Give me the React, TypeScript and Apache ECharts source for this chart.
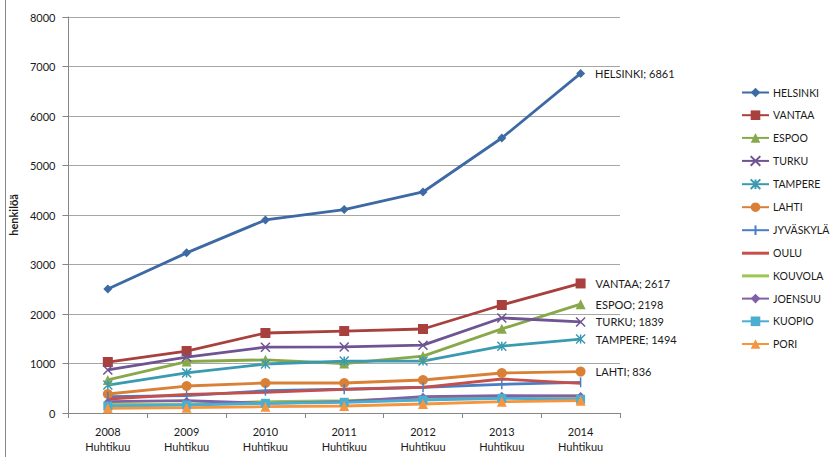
import React, { useEffect, useRef } from "react";
import * as echarts from "echarts";

const years = ["2008\nHuhtikuu", "2009\nHuhtikuu", "2010\nHuhtikuu", "2011\nHuhtikuu", "2012\nHuhtikuu", "2013\nHuhtikuu", "2014\nHuhtikuu"];

const helsinki = [2505, 3235, 3900, 4110, 4465, 5555, 6861];
const vantaa = [1030, 1252, 1616, 1656, 1697, 2182, 2617];
const espoo = [667, 1040, 1075, 1000, 1150, 1700, 2198];
const turku = [870, 1130, 1330, 1335, 1370, 1920, 1839];
const tampere = [565, 810, 990, 1050, 1050, 1350, 1494];
const lahti = [384, 545, 606, 606, 667, 808, 836];
const jyvaskyla = [330, 350, 450, 480, 520, 580, 620];
const oulu = [283, 377, 418, 478, 519, 687, 600];
const kouvola = [175, 180, 229, 249, 296, 330, 343];
const joensuu = [229, 249, 196, 229, 330, 350, 343];
const kuopio = [141, 162, 196, 216, 263, 296, 276];
const pori = [94, 108, 128, 141, 182, 229, 249];

const xPath = "path://M0,0L10,10M10,0L0,10";
const starPath = "path://M0,0L10,10M10,0L0,10M5,0L5,10";
const plusPath = "path://M0,5L0,5M5,0L5,10M10,5L10,5";
const lineIcon = "path://M0,0L27,0L27,3L0,3Z";

type S = { name: string; data: number[]; color: string; symbol: string; label: boolean; size?: number };

const seriesDefs: S[] = [
  { name: "HELSINKI", data: helsinki, color: "#3D6AA4", symbol: "diamond", label: true, size: 9 },
  { name: "VANTAA", data: vantaa, color: "#A8403D", symbol: "rect", label: true, size: 10 },
  { name: "ESPOO", data: espoo, color: "#88A84C", symbol: "triangle", label: true, size: 10 },
  { name: "TURKU", data: turku, color: "#6E5492", symbol: xPath, label: true, size: 9 },
  { name: "TAMPERE", data: tampere, color: "#3A9AB1", symbol: starPath, label: true, size: 9 },
  { name: "LAHTI", data: lahti, color: "#DA8036", symbol: "circle", label: true, size: 10 },
  { name: "JYVÄSKYLÄ", data: jyvaskyla, color: "#4A7EC4", symbol: plusPath, label: false, size: 10 },
  { name: "OULU", data: oulu, color: "#C64F4C", symbol: "none", label: false },
  { name: "KOUVOLA", data: kouvola, color: "#9AC652", symbol: "none", label: false },
  { name: "JOENSUU", data: joensuu, color: "#8060A6", symbol: "diamond", label: false, size: 8 },
  { name: "KUOPIO", data: kuopio, color: "#4AAED0", symbol: "rect", label: false, size: 9 },
  { name: "PORI", data: pori, color: "#F7953F", symbol: "triangle", label: false, size: 10 },
];

export default function App() {
  const ref = useRef<HTMLDivElement>(null);
  useEffect(() => {
    if (!ref.current) return;
    const chart = echarts.init(ref.current, null, { renderer: "svg" });
    const font = "Lato, 'Open Sans', sans-serif";
    const series = seriesDefs.map((s) => {
      const isPath = s.symbol.startsWith("path://");
      return {
        name: s.name,
        type: "line",
        data: s.data.map((v, i) =>
          i === s.data.length - 1 && s.label
            ? {
                value: v,
                label: {
                  show: true,
                  position: "right",
                  distance: 10,
                  formatter: s.name + "; " + v,
                  color: "#1a1a1a",
                  fontSize: 11,
                  fontFamily: font,
                },
              }
            : v
        ),
        color: s.color,
        symbol: s.symbol,
        symbolSize: s.size || 8,
        showSymbol: s.symbol !== "none",
        lineStyle: { width: 2.8, color: s.color },
        itemStyle: isPath
          ? { color: s.color, borderColor: s.color, borderWidth: 1.5 }
          : { color: s.color },
      };
    });
    chart.setOption({
      animation: false,
      backgroundColor: "#fff",
      textStyle: { fontFamily: font },
      grid: { left: 65, right: 214, top: 17, bottom: 44 },
      legend: {
        orient: "vertical",
        left: 741,
        top: 87,
        padding: 0,
        itemWidth: 27,
        itemHeight: 12,
        itemGap: 11.7,
        textStyle: { fontSize: 10.5, color: "#1a1a1a", fontFamily: font, padding: [0, 0, 0, -1] },
        data: seriesDefs.map((s) =>
          s.symbol === "none" ? { name: s.name, icon: lineIcon } : { name: s.name }
        ),
      },
      xAxis: {
        type: "category",
        data: years,
        boundaryGap: true,
        axisLine: { lineStyle: { color: "#868686" } },
        axisTick: { show: true, length: 5, lineStyle: { color: "#868686" } },
        axisLabel: { color: "#1a1a1a", fontSize: 11, lineHeight: 15, margin: 11, fontFamily: font },
      },
      yAxis: {
        type: "value",
        min: 0,
        max: 8000,
        interval: 1000,
        name: "henkilöä",
        nameLocation: "middle",
        nameRotate: 90,
        nameGap: 33,
        nameTextStyle: { fontWeight: "bold", fontSize: 11, color: "#1a1a1a", fontFamily: font },
        axisLine: { show: true, lineStyle: { color: "#868686" } },
        axisTick: { show: true, length: 6, lineStyle: { color: "#868686" } },
        axisLabel: { color: "#1a1a1a", fontSize: 11, margin: 13, fontFamily: font, formatter: (v: number) => String(v) },
        splitLine: { lineStyle: { color: "#A6A6A6" } },
      },
      graphic: [
        { type: "line", shape: { x1: 5.5, y1: 0, x2: 5.5, y2: 457 }, style: { stroke: "#868686", lineWidth: 1 } },
      ],
      series,
    });
    return () => chart.dispose();
  }, []);
  return <div ref={ref} style={{ position: "absolute", left: 0, top: 0, width: 834, height: 457 }} />;
}
